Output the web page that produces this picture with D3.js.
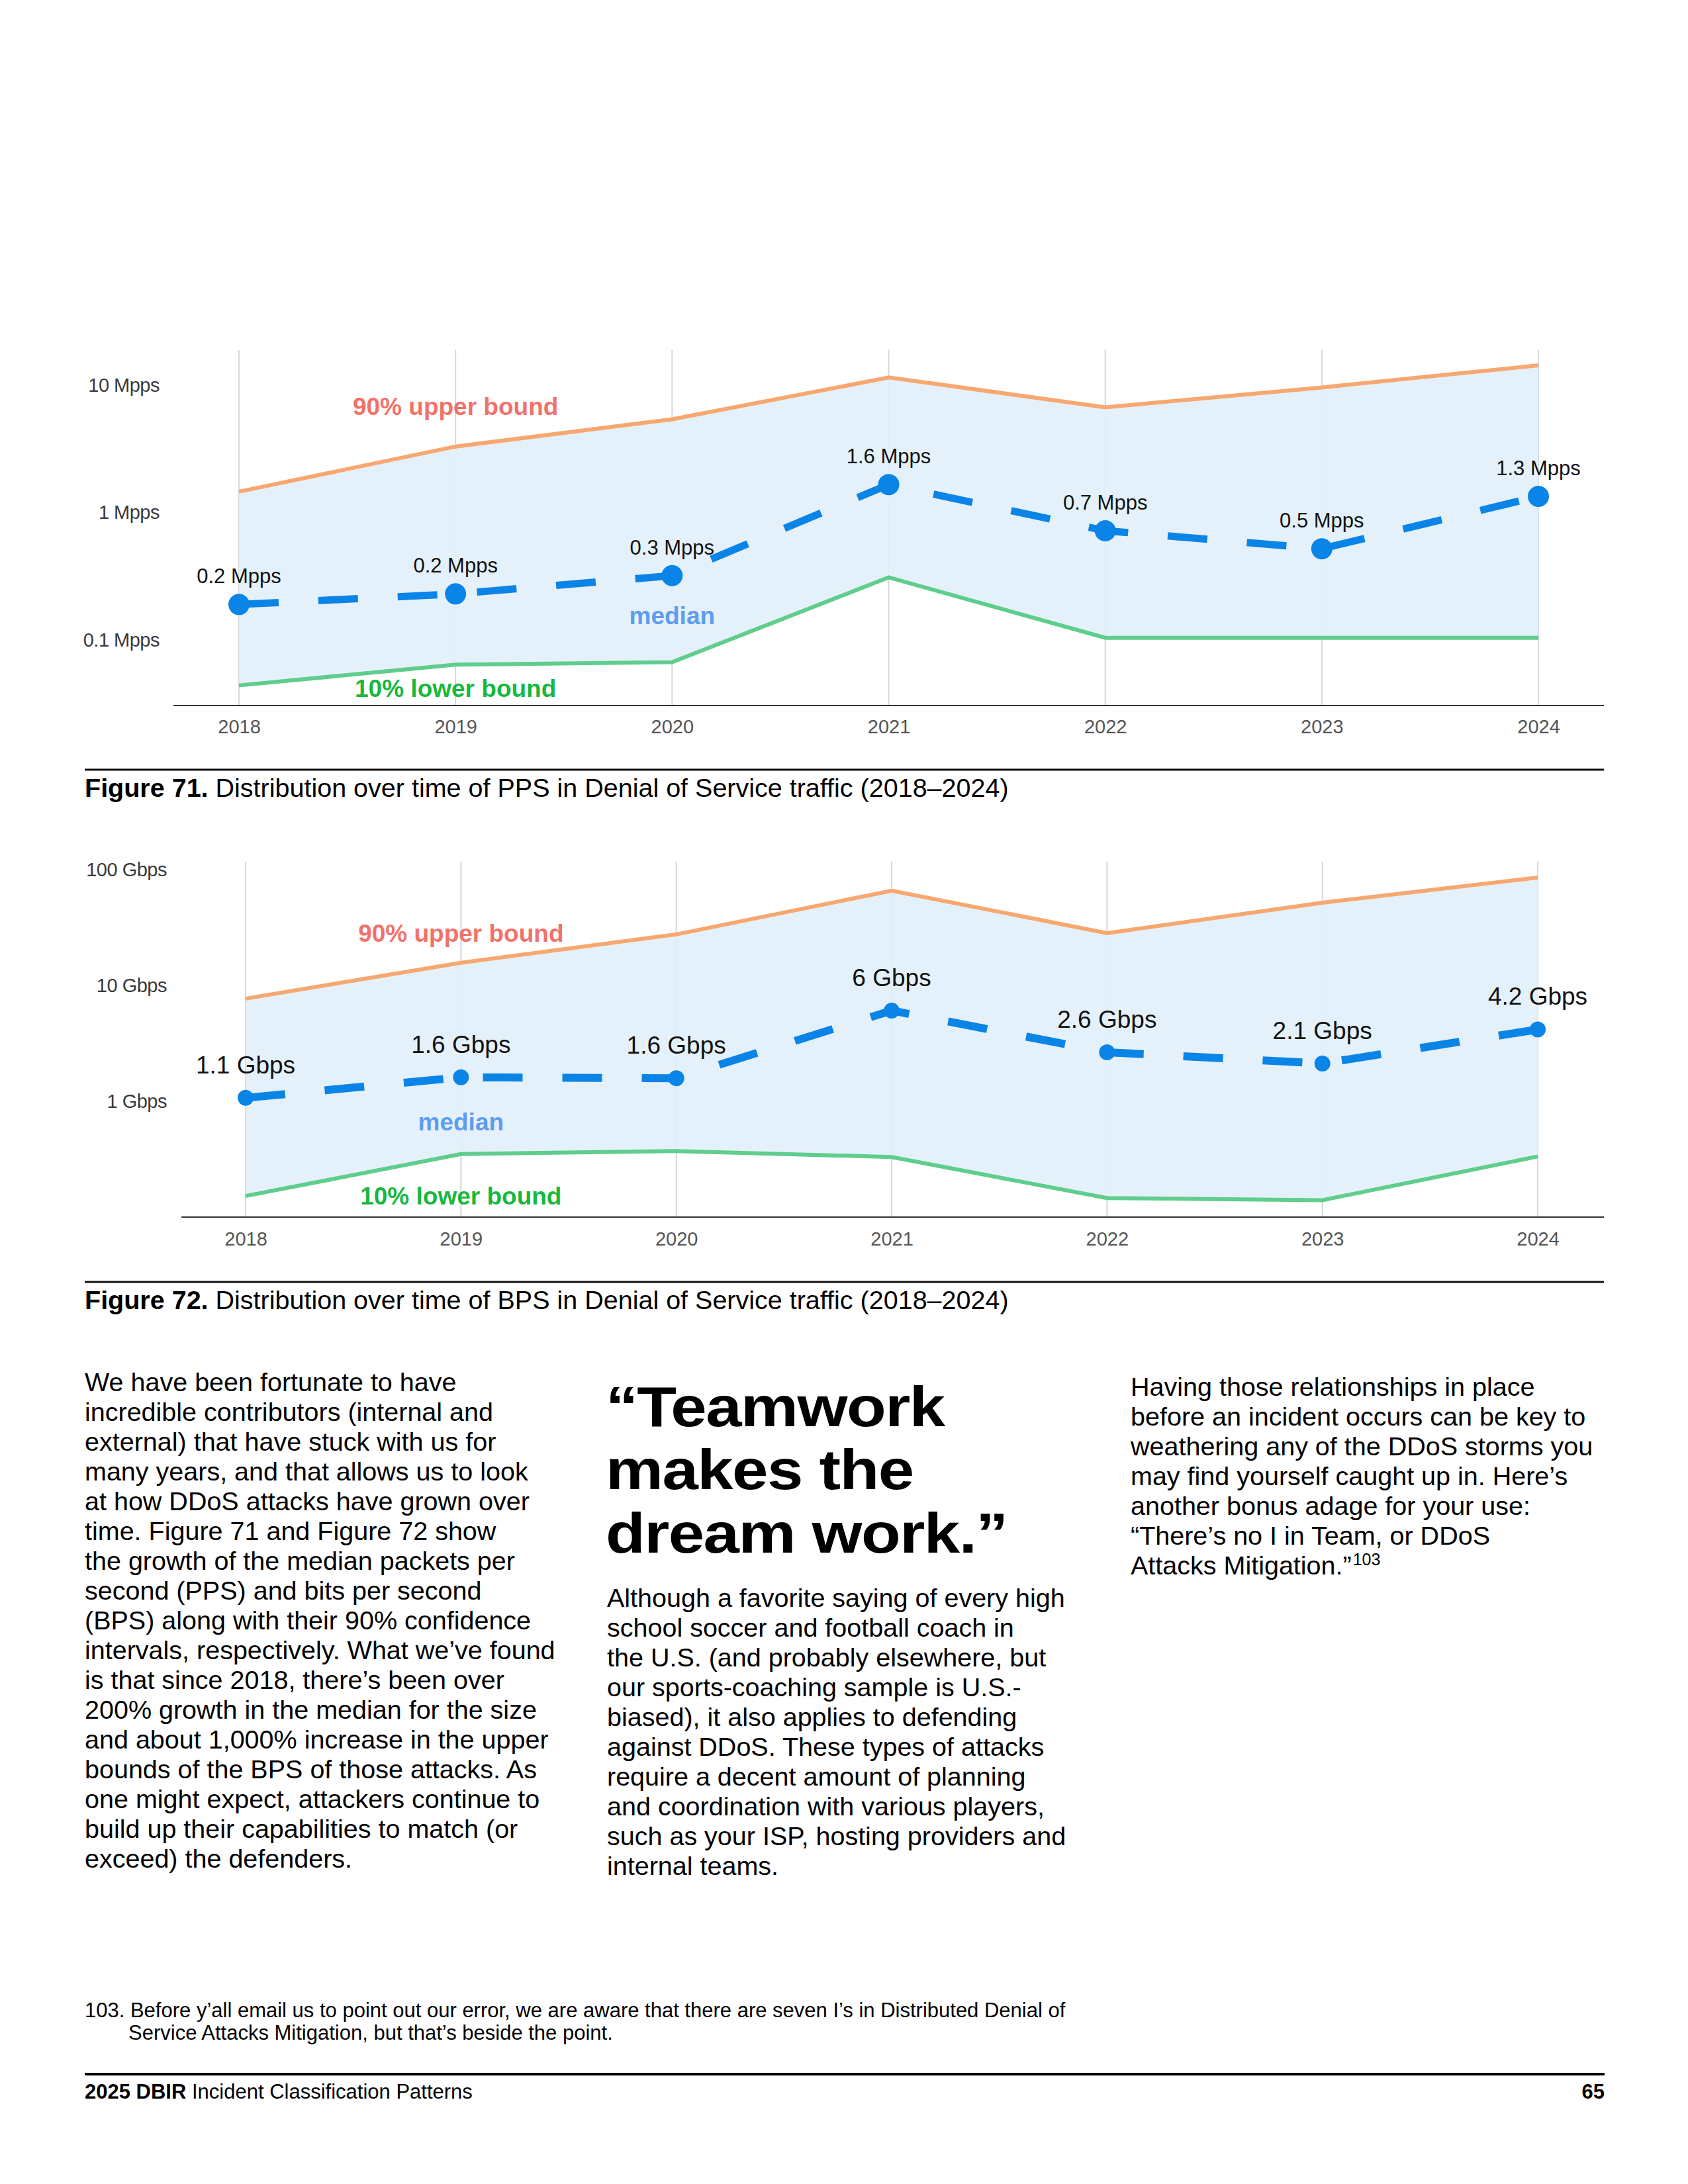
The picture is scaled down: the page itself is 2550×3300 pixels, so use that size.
<!DOCTYPE html>
<html>
<head>
<meta charset="utf-8">
<script src="https://cdn.jsdelivr.net/npm/d3@7"></script>
<style>
  body { margin: 0; background: #fff; }
  text { font-family: "Liberation Sans", Arial, sans-serif; }
</style>
</head>
<body>
<div class="page"></div>
<script>
// Chart data
var years = [2018, 2019, 2020, 2021, 2022, 2023, 2024];

var ppsUpper = [1.46, 3.3, 5.4, 11.5, 6.7, 9.6, 14.3];
var ppsMedian = [0.19, 0.23, 0.32, 1.66, 0.72, 0.52, 1.34];
var ppsLower = [0.044, 0.064, 0.067, 0.31, 0.104, 0.104, 0.104];
var ppsLabels = ["0.2 Mpps", "0.2 Mpps", "0.3 Mpps", "1.6 Mpps", "0.7 Mpps", "0.5 Mpps", "1.3 Mpps"];
var ppsTicks = [0.1, 1, 10];
var ppsTickLabels = ["0.1 Mpps", "1 Mpps", "10 Mpps"];

var bpsUpper = [7.7, 15.7, 27.6, 65.9, 28.3, 51.8, 85.5];
var bpsMedian = [1.07, 1.61, 1.58, 6.07, 2.65, 2.12, 4.17];
var bpsLower = [0.152, 0.35, 0.372, 0.33, 0.146, 0.14, 0.334];
var bpsLabels = ["1.1 Gbps", "1.6 Gbps", "1.6 Gbps", "6 Gbps", "2.6 Gbps", "2.1 Gbps", "4.2 Gbps"];
var bpsTicks = [1, 10, 100];
var bpsTickLabels = ["1 Gbps", "10 Gbps", "100 Gbps"];

var leftLines = [
  "We have been fortunate to have",
  "incredible contributors (internal and",
  "external) that have stuck with us for",
  "many years, and that allows us to look",
  "at how DDoS attacks have grown over",
  "time. Figure 71 and Figure 72 show",
  "the growth of the median packets per",
  "second (PPS) and bits per second",
  "(BPS) along with their 90% confidence",
  "intervals, respectively. What we\u2019ve found",
  "is that since 2018, there\u2019s been over",
  "200% growth in the median for the size",
  "and about 1,000% increase in the upper",
  "bounds of the BPS of those attacks. As",
  "one might expect, attackers continue to",
  "build up their capabilities to match (or",
  "exceed) the defenders."
];
var quoteLines = ["\u201cTeamwork", "makes the", "dream work.\u201d"];
var midLines = [
  "Although a favorite saying of every high",
  "school soccer and football coach in",
  "the U.S. (and probably elsewhere, but",
  "our sports-coaching sample is U.S.-",
  "biased), it also applies to defending",
  "against DDoS. These types of attacks",
  "require a decent amount of planning",
  "and coordination with various players,",
  "such as your ISP, hosting providers and",
  "internal teams."
];
var rightLines = [
  "Having those relationships in place",
  "before an incident occurs can be key to",
  "weathering any of the DDoS storms you",
  "may find yourself caught up in. Here\u2019s",
  "another bonus adage for your use:",
  "\u201cThere\u2019s no I in Team, or DDoS",
  "Attacks Mitigation.\u201d"
];
var footnoteLines = [
  "103. Before y\u2019all email us to point out our error, we are aware that there are seven I\u2019s in Distributed Denial of",
  "Service Attacks Mitigation, but that\u2019s beside the point."
];

var svg = d3.select(".page")
  .append("svg")
  .attr("width", 2550)
  .attr("height", 3300);

// Draw one distribution chart
function renderChart(opt) {
  var g = svg.append("g");

  var x = d3.scalePoint().domain(years).range([opt.x0, opt.x1]);
  var y = d3.scaleLog().domain([opt.ticks[0], opt.ticks[2]]).range([opt.yLow, opt.yHigh]);

  // grid lines
  g.selectAll(".grid")
    .data(years)
    .enter()
    .append("line")
    .attr("x1", function(d) { return x(d); })
    .attr("x2", function(d) { return x(d); })
    .attr("y1", opt.top)
    .attr("y2", opt.bottom)
    .attr("stroke", "#d3d8dd")
    .attr("stroke-width", 2);

  // band between bounds
  var area = d3.area()
    .x(function(d, i) { return x(years[i]); })
    .y0(function(d, i) { return y(opt.lower[i]); })
    .y1(function(d) { return y(d); });
  g.append("path")
    .datum(opt.upper)
    .attr("d", area)
    .attr("fill", "#e2f0fa")
    .attr("fill-opacity", 0.92);

  var line = d3.line()
    .x(function(d, i) { return x(years[i]); })
    .y(function(d) { return y(d); });

  g.append("path")
    .datum(opt.upper)
    .attr("d", line)
    .attr("fill", "none")
    .attr("stroke", "#f6a870")
    .attr("stroke-width", 6);

  g.append("path")
    .datum(opt.lower)
    .attr("d", line)
    .attr("fill", "none")
    .attr("stroke", "#5fcd8c")
    .attr("stroke-width", 6);

  g.append("path")
    .datum(opt.median)
    .attr("d", line)
    .attr("fill", "none")
    .attr("stroke", "#0a84e6")
    .attr("stroke-width", opt.dashWidth)
    .attr("stroke-dasharray", "60,60");

  g.selectAll(".dot")
    .data(opt.median)
    .enter()
    .append("circle")
    .attr("cx", function(d, i) { return x(years[i]); })
    .attr("cy", function(d) { return y(d); })
    .attr("r", opt.dotR)
    .attr("fill", "#0a84e6");

  g.selectAll(".valueLabel")
    .data(opt.median)
    .enter()
    .append("text")
    .attr("x", function(d, i) { return x(years[i]); })
    .attr("y", function(d) { return y(d) - opt.labelGap; })
    .attr("text-anchor", "middle")
    .attr("font-size", opt.labelSize)
    .attr("fill", "#111")
    .text(function(d, i) { return opt.labels[i]; });

  // series names
  g.append("text")
    .attr("x", x(2019))
    .attr("y", opt.upperLabelY)
    .attr("text-anchor", "middle")
    .attr("font-size", 37)
    .attr("font-weight", "bold")
    .attr("fill", "#f2716a")
    .text("90% upper bound");
  g.append("text")
    .attr("x", x(opt.medianYear))
    .attr("y", opt.medianLabelY)
    .attr("text-anchor", "middle")
    .attr("font-size", 37)
    .attr("font-weight", "bold")
    .attr("fill", "#5f9cf0")
    .text("median");
  g.append("text")
    .attr("x", x(2019))
    .attr("y", opt.lowerLabelY)
    .attr("text-anchor", "middle")
    .attr("font-size", 37)
    .attr("font-weight", "bold")
    .attr("fill", "#18b83f")
    .text("10% lower bound");

  // axes
  g.append("line")
    .attr("x1", opt.axisX0)
    .attr("x2", 2423)
    .attr("y1", opt.bottom)
    .attr("y2", opt.bottom)
    .attr("stroke", "#333")
    .attr("stroke-width", 2);

  var bottomAxis = d3.axisBottom(x).tickSize(0).tickPadding(0);
  var xAxis = g.append("g")
    .attr("transform", "translate(0," + opt.yearY + ")")
    .call(bottomAxis);
  xAxis.select(".domain").remove();
  xAxis.selectAll("text")
    .attr("dy", "0.35em")
    .attr("font-size", 29)
    .attr("font-family", "Liberation Sans, Arial, sans-serif")
    .attr("fill", "#555");

  var leftAxis = d3.axisLeft(y)
    .tickValues(opt.ticks)
    .tickFormat(function(d, i) { return opt.tickLabels[i]; })
    .tickSize(0)
    .tickPadding(0);
  var yAxis = g.append("g")
    .attr("transform", "translate(" + opt.tickX + ",0)")
    .call(leftAxis);
  yAxis.select(".domain").remove();
  yAxis.selectAll("text")
    .attr("font-size", 29)
    .attr("font-family", "Liberation Sans, Arial, sans-serif")
    .attr("letter-spacing", -0.5)
    .attr("fill", "#3a3a3a");

  // caption
  g.append("line")
    .attr("x1", 128)
    .attr("x2", 2423)
    .attr("y1", opt.ruleY)
    .attr("y2", opt.ruleY)
    .attr("stroke", "#111")
    .attr("stroke-width", 3);
  var cap = g.append("text")
    .attr("x", 128)
    .attr("y", opt.ruleY + 41)
    .attr("font-size", 39.5)
    .attr("fill", "#000");
  cap.append("tspan").attr("font-weight", "bold").text(opt.figure);
  cap.append("tspan").text(" " + opt.caption);
}

renderChart({
  upper: ppsUpper, median: ppsMedian, lower: ppsLower, labels: ppsLabels,
  ticks: ppsTicks, tickLabels: ppsTickLabels,
  x0: 361, x1: 2324, yLow: 967, yHigh: 582, top: 529, bottom: 1066,
  axisX0: 262, tickX: 241, yearY: 1098,
  dotR: 16, dashWidth: 11, labelSize: 31, labelGap: 32,
  upperLabelY: 627, medianYear: 2020, medianLabelY: 943, lowerLabelY: 1053,
  ruleY: 1163, figure: "Figure 71.",
  caption: "Distribution over time of PPS in Denial of Service traffic (2018\u20132024)"
});

renderChart({
  upper: bpsUpper, median: bpsMedian, lower: bpsLower, labels: bpsLabels,
  ticks: bpsTicks, tickLabels: bpsTickLabels,
  x0: 371, x1: 2323, yLow: 1664, yHigh: 1314, top: 1302, bottom: 1839,
  axisX0: 274, tickX: 252, yearY: 1872,
  dotR: 12, dashWidth: 12, labelSize: 37, labelGap: 37,
  upperLabelY: 1423, medianYear: 2019, medianLabelY: 1708, lowerLabelY: 1820,
  ruleY: 1937, figure: "Figure 72.",
  caption: "Distribution over time of BPS in Denial of Service traffic (2018\u20132024)"
});

// Body text
function textBlock(lines, x, y0, size, lh) {
  svg.append("g").selectAll("text")
    .data(lines)
    .enter()
    .append("text")
    .attr("x", x)
    .attr("y", function(d, i) { return y0 + i * lh; })
    .attr("font-size", size)
    .attr("fill", "#000")
    .text(function(d) { return d; });
}

textBlock(leftLines, 128, 2102, 39.5, 45);
textBlock(midLines, 917, 2428, 39.5, 45);
textBlock(rightLines, 1708, 2109, 39.5, 45);

// pull quote: tight leading, so a smaller face stretched sideways to the same width
svg.append("g")
  .attr("transform", "translate(915,0) scale(1.15,1)")
  .selectAll("text")
  .data(quoteLines)
  .enter()
  .append("text")
  .attr("x", 0)
  .attr("y", function(d, i) { return 2155 + i * 95.5; })
  .attr("font-size", 85)
  .attr("font-weight", "bold")
  .attr("letter-spacing", -1.3)
  .attr("fill", "#000")
  .text(function(d) { return d; });

// superscript note mark after the last right-column line
var lastRight = svg.selectAll("text").filter(function() {
  return d3.select(this).text() === rightLines[rightLines.length - 1];
});
var supX = 1708 + lastRight.node().getComputedTextLength() + 2;
svg.append("text")
  .attr("x", supX)
  .attr("y", 2109 + 6 * 45 - 14)
  .attr("font-size", 25)
  .attr("fill", "#000")
  .text("103");

// Footnote
svg.append("text")
  .attr("x", 128)
  .attr("y", 3048)
  .attr("font-size", 31)
  .attr("fill", "#000")
  .text(footnoteLines[0]);
svg.append("text")
  .attr("x", 194)
  .attr("y", 3082)
  .attr("font-size", 31)
  .attr("fill", "#000")
  .text(footnoteLines[1]);

// Footer
svg.append("line")
  .attr("x1", 128)
  .attr("x2", 2424)
  .attr("y1", 3134)
  .attr("y2", 3134)
  .attr("stroke", "#000")
  .attr("stroke-width", 4);
var foot = svg.append("text")
  .attr("x", 128)
  .attr("y", 3171)
  .attr("font-size", 31)
  .attr("fill", "#000");
foot.append("tspan").attr("font-weight", "bold").text("2025 DBIR");
foot.append("tspan").text(" Incident Classification Patterns");
svg.append("text")
  .attr("x", 2424)
  .attr("y", 3171)
  .attr("text-anchor", "end")
  .attr("font-size", 31)
  .attr("font-weight", "bold")
  .attr("fill", "#000")
  .text("65");
</script>
</body>
</html>
